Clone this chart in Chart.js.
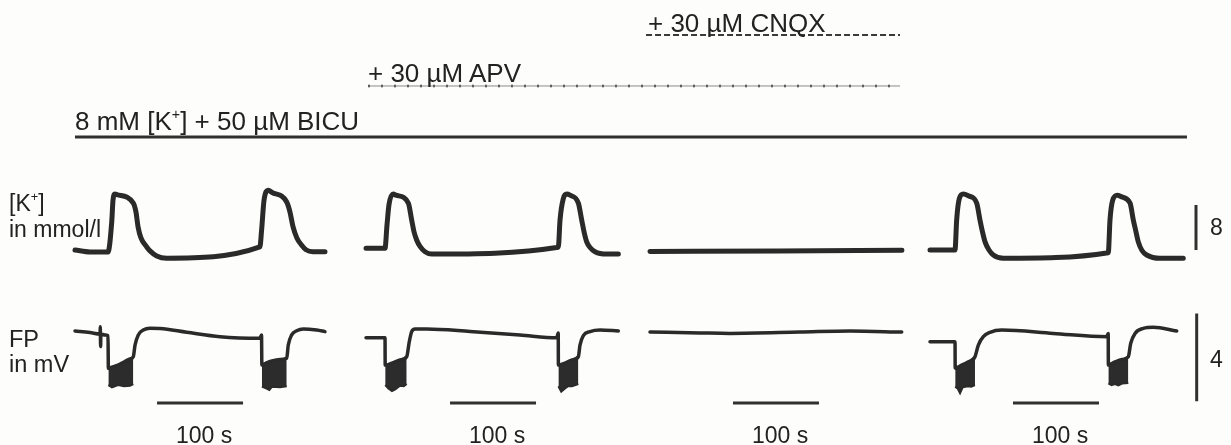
<!DOCTYPE html>
<html>
<head>
<meta charset="utf-8">
<script src="https://cdn.jsdelivr.net/npm/chart.js@4.4.0/dist/chart.umd.min.js"></script>
<style>
  html, body { margin: 0; padding: 0; background: #fdfdfb; }
  #wrap { position: relative; width: 1231px; height: 445px; }
  canvas { position: absolute; left: 0; top: 0; }
  .lbl { position: absolute; font-family: "Liberation Sans", Arial, sans-serif; color: #222; line-height: 1; white-space: nowrap; }
  .sup { font-size: 0.55em; position: relative; top: -0.75em; }
</style>
</head>
<body>
<div id="wrap">
  <canvas id="chart" width="1231" height="445"></canvas>
  <div class="lbl" style="left:648px;top:10px;font-size:26px">+ 30 µM CNQX</div>
  <div class="lbl" style="left:368px;top:60px;font-size:26px">+ 30 µM APV</div>
  <div class="lbl" style="left:75px;top:108px;font-size:26px">8 mM [K<span class="sup">+</span>] + 50 µM BICU</div>
  <div class="lbl" style="left:9px;top:191.5px;font-size:23px">[K<span class="sup">+</span>]</div>
  <div class="lbl" style="left:9px;top:217.5px;font-size:23px">in mmol/l</div>
  <div class="lbl" style="left:9px;top:328.4px;font-size:23.5px">FP</div>
  <div class="lbl" style="left:9px;top:353.1px;font-size:23.5px">in mV</div>
  <div class="lbl" style="left:1210px;top:215.5px;font-size:23px">8</div>
  <div class="lbl" style="left:1210px;top:347.5px;font-size:23px">4</div>
  <div class="lbl" style="left:176px;top:423.5px;font-size:23px">100 s</div>
  <div class="lbl" style="left:469px;top:423.5px;font-size:23px">100 s</div>
  <div class="lbl" style="left:752px;top:423.5px;font-size:23px">100 s</div>
  <div class="lbl" style="left:1032px;top:423.5px;font-size:23px">100 s</div>
</div>
<script>
// display time (s) at which each recording panel starts
const panelStarts = [87.2, 425.6, 755.8, 1081.4];

// [K+] traces, [time in s, mmol/l]
const k1 = [[0,8.36],[17.4,8.0],[38.4,8.0],[42.7,13.3],[44.2,17.2],[46.5,18.3],[48.8,18.2],[67.8,16.7],[70.9,15.1],[73.3,12.5],[76.7,10.5],[83.4,8.9],[87.2,8.2],[95,7.3],[106.6,6.9],[215,8.9],[217,11.9],[219.8,17.2],[224.8,19.0],[229,18.6],[246.2,16.9],[250,15.1],[253.5,12.5],[258,10.5],[263.6,9.2],[268.6,8.4],[276.7,8.05],[290.7,8.05]];
const k2 = [[0,8.66],[22.1,8.66],[24.4,12.8],[26.7,16.4],[31.7,18.3],[34.9,18.1],[49.2,16.7],[53.1,13.7],[55.8,11.6],[59.0,10.1],[62.8,9.0],[68.6,8.05],[76.4,7.64],[223.6,8.84],[225.6,13.7],[229.4,17.5],[233.4,18.3],[237.2,18.1],[246.9,16.7],[250.8,13.7],[253.5,11.6],[256.6,9.8],[260.5,8.8],[266.3,8.05],[279.9,7.64],[293.4,7.64]];
const k3 = [[0,8.1],[150,8.2],[293,8.3]];
const k4 = [[0,8.36],[29.1,8.36],[31.0,13.7],[34.1,17.5],[38.7,18.3],[44.5,18.0],[54.3,16.7],[58.1,13.7],[61.0,11.6],[64.0,9.8],[68.6,8.36],[73.6,7.47],[85.2,6.88],[207.3,7.88],[209.3,13.7],[212.4,17.2],[217.8,18.1],[222.9,17.8],[232.6,16.7],[236.4,13.7],[239.5,11.6],[242.2,9.8],[246.5,8.27],[252,7.47],[267.4,6.88],[294.5,6.88]];

// field potential traces, [time in s, mV]
const fp1 = [[0,0.41],[17.4,0.34],[29.1,0.27],[29.4,0.6],[29.8,-0.3],[30.1,0.27],[34.9,0.23],[38.4,0.2],[38.8,-1.29],[43,-1.23],[50,-1.14],[57,-1.0],[64,-0.86],[67.8,-0.76],[69.8,-0.23],[73.6,0.23],[79.4,0.45],[87.2,0.53],[98.8,0.52],[129.9,0.35],[168.6,0.15],[215.1,0.08],[216.9,0.23],[217.3,-1.14],[222.1,-1.05],[229.1,-0.95],[238.4,-0.89],[246.2,-0.83],[248,-0.23],[252,0.23],[257.8,0.42],[265.5,0.5],[281,0.45],[290.7,0.38]];
const fp2 = [[0,0.1],[22.1,0.1],[22.3,-1.14],[30.2,-1.05],[39.5,-0.91],[47.3,-0.76],[50.3,-0.08],[53.1,0.38],[57,0.5],[70.6,0.5],[120.9,0.39],[179,0.23],[221.7,0.1],[223.5,0.32],[223.7,-1.14],[231.4,-1.05],[239.5,-0.91],[246.9,-0.76],[248.8,-0.23],[252.7,0.2],[260.5,0.38],[272.1,0.45],[293.4,0.41]];
const fp3 = [[0,0.36],[58.1,0.32],[93,0.3],[174.4,0.36],[232.6,0.41],[292.7,0.36]];
const fp4 = [[0,-0.08],[29.1,-0.08],[29.3,-1.29],[34.9,-1.18],[44.2,-1.0],[52.3,-0.76],[56.2,-0.23],[62,0.15],[69.8,0.35],[83.4,0.45],[143.4,0.3],[205.5,0.15],[207.2,0.3],[207.4,-1.14],[215.1,-1.0],[223.3,-0.89],[230.6,-0.76],[233.4,-0.15],[238.4,0.3],[248,0.53],[259.7,0.58],[286.9,0.41]];

// burst envelopes, [time in s, upper mV, lower mV], with the panel they belong to
const bursts = [
  [0, [[38.8,-1.29,-2.05],[43,-1.23,-2.15],[50,-1.14,-2.05],[57,-1.0,-2.1],[64,-0.86,-2.08],[67.8,-0.76,-2.0]]],
  [0, [[217.3,-1.14,-2.12],[222.1,-1.05,-2.2],[226,-1.0,-2.27],[229.1,-0.95,-2.12],[238.4,-0.89,-2.15],[246.2,-0.83,-2.1]]],
  [1, [[22.3,-1.14,-2.05],[26,-1.1,-2.2],[30.2,-1.05,-2.32],[34,-1.0,-2.25],[39.5,-0.91,-2.08],[44,-0.84,-2.1],[47.3,-0.76,-2.0]]],
  [1, [[223.7,-1.14,-2.1],[227,-1.1,-2.35],[231.4,-1.05,-2.2],[235,-0.98,-2.1],[239.5,-0.91,-2.1],[246.9,-0.76,-2.0]]],
  [3, [[29.3,-1.29,-2.12],[32,-1.25,-2.2],[34.9,-1.18,-2.42],[38,-1.12,-2.15],[44.2,-1.0,-2.1],[48,-0.9,-2.12],[52.3,-0.76,-2.05]]],
  [3, [[207.4,-1.14,-1.97],[211,-1.08,-2.05],[215.1,-1.0,-2.0],[219,-0.95,-2.06],[223.3,-0.89,-1.98],[230.6,-0.76,-1.95]]]
];

// drug application bars (display time, s), lanes 0..2 from bottom up
const drugNames = ["8 mM [K+] + 50 µM BICU", "+ 30 µM APV", "+ 30 µM CNQX"];
const drugStart = [87.2, 427.9, 751.2];
const drugEnd = [1380.2, 1046.5, 1046.5];

// scale bars
const timeBarStart = [95.4, 97.7, 96.5, 96.5]; // relative to panel start
const timeBarLength = 100;   // s
const timeBarLevel = -2.86;  // mV axis
const kBarTime = 1390.7, kBar = [8.36, 16.36];       // 8 mmol/l
const fpBarTime = 1391.5, fpBar = [1.21, -2.79];     // 4 mV

const ink = "#2a2a2a";

function shift(points, t0) {
  return points.map(p => ({ x: p[0] + t0, y: p[1] }));
}

const datasets = [];

[k1, k2, k3, k4].forEach((tr, i) => {
  datasets.push({
    data: shift(tr, panelStarts[i]), yAxisID: "yK",
    borderColor: ink, borderWidth: 5, cubicInterpolationMode: "monotone",
    borderCapStyle: "round", borderJoinStyle: "round"
  });
});

[fp1, fp2, fp3, fp4].forEach((tr, i) => {
  datasets.push({
    data: shift(tr, panelStarts[i]), yAxisID: "yFP",
    borderColor: ink, borderWidth: 3.5, cubicInterpolationMode: "monotone",
    borderCapStyle: "round", borderJoinStyle: "round"
  });
});

bursts.forEach(([p, rows]) => {
  const t0 = panelStarts[p];
  datasets.push({
    data: rows.map(r => ({ x: r[0] + t0, y: r[1] })), yAxisID: "yFP",
    borderColor: ink, borderWidth: 2
  });
  datasets.push({
    data: rows.map(r => ({ x: r[0] + t0, y: r[2] })), yAxisID: "yFP",
    borderColor: ink, borderWidth: 2, fill: "-1", backgroundColor: "#2c2c2c"
  });
});

// BICU solid, APV dotted, CNQX dashed
datasets.push({
  label: drugNames[0], yAxisID: "yLane", borderColor: "#303030", borderWidth: 3,
  data: [{ x: drugStart[0], y: 0 }, { x: drugEnd[0], y: 0 }]
});
datasets.push({
  label: drugNames[1], yAxisID: "yLane", borderColor: "#8a8a8a", borderWidth: 1,
  data: [{ x: drugStart[1], y: 1 }, { x: drugEnd[1], y: 1 }]
});
datasets.push({
  label: drugNames[1], yAxisID: "yLane", borderColor: "#333", borderWidth: 2.5, borderDash: [2, 11],
  data: [{ x: drugStart[1], y: 1 }, { x: drugEnd[1], y: 1 }]
});
datasets.push({
  label: drugNames[2], yAxisID: "yLane", borderColor: "#3a3a3a", borderWidth: 2, borderDash: [6, 3],
  data: [{ x: drugStart[2], y: 2 }, { x: drugEnd[2], y: 2 }]
});

timeBarStart.forEach((s, i) => {
  const t = panelStarts[i] + s;
  datasets.push({
    yAxisID: "yFP", borderColor: "#303030", borderWidth: 3,
    data: [{ x: t, y: timeBarLevel }, { x: t + timeBarLength, y: timeBarLevel }]
  });
});

datasets.push({
  yAxisID: "yK", borderColor: "#303030", borderWidth: 3,
  data: [{ x: kBarTime, y: kBar[0] }, { x: kBarTime, y: kBar[1] }]
});
datasets.push({
  yAxisID: "yFP", borderColor: "#303030", borderWidth: 3,
  data: [{ x: fpBarTime, y: fpBar[0] }, { x: fpBarTime, y: fpBar[1] }]
});

datasets.forEach(d => { d.pointRadius = 0; d.fill = d.fill || false; });

new Chart(document.getElementById("chart"), {
  type: "line",
  data: { datasets },
  options: {
    responsive: false,
    animation: false,
    events: [],
    layout: { padding: 0 },
    plugins: { legend: { display: false }, tooltip: { enabled: false } },
    scales: {
      x: { type: "linear", display: false, min: 0, max: 1231 / 0.86 },
      yK: { type: "linear", display: false, min: -26.31, max: 52.8 },
      yFP: { type: "linear", display: false, min: -4.773, max: 15.4545 },
      yLane: { type: "linear", display: false, min: -6.039, max: 2.686 }
    }
  }
});
</script>
</body>
</html>
